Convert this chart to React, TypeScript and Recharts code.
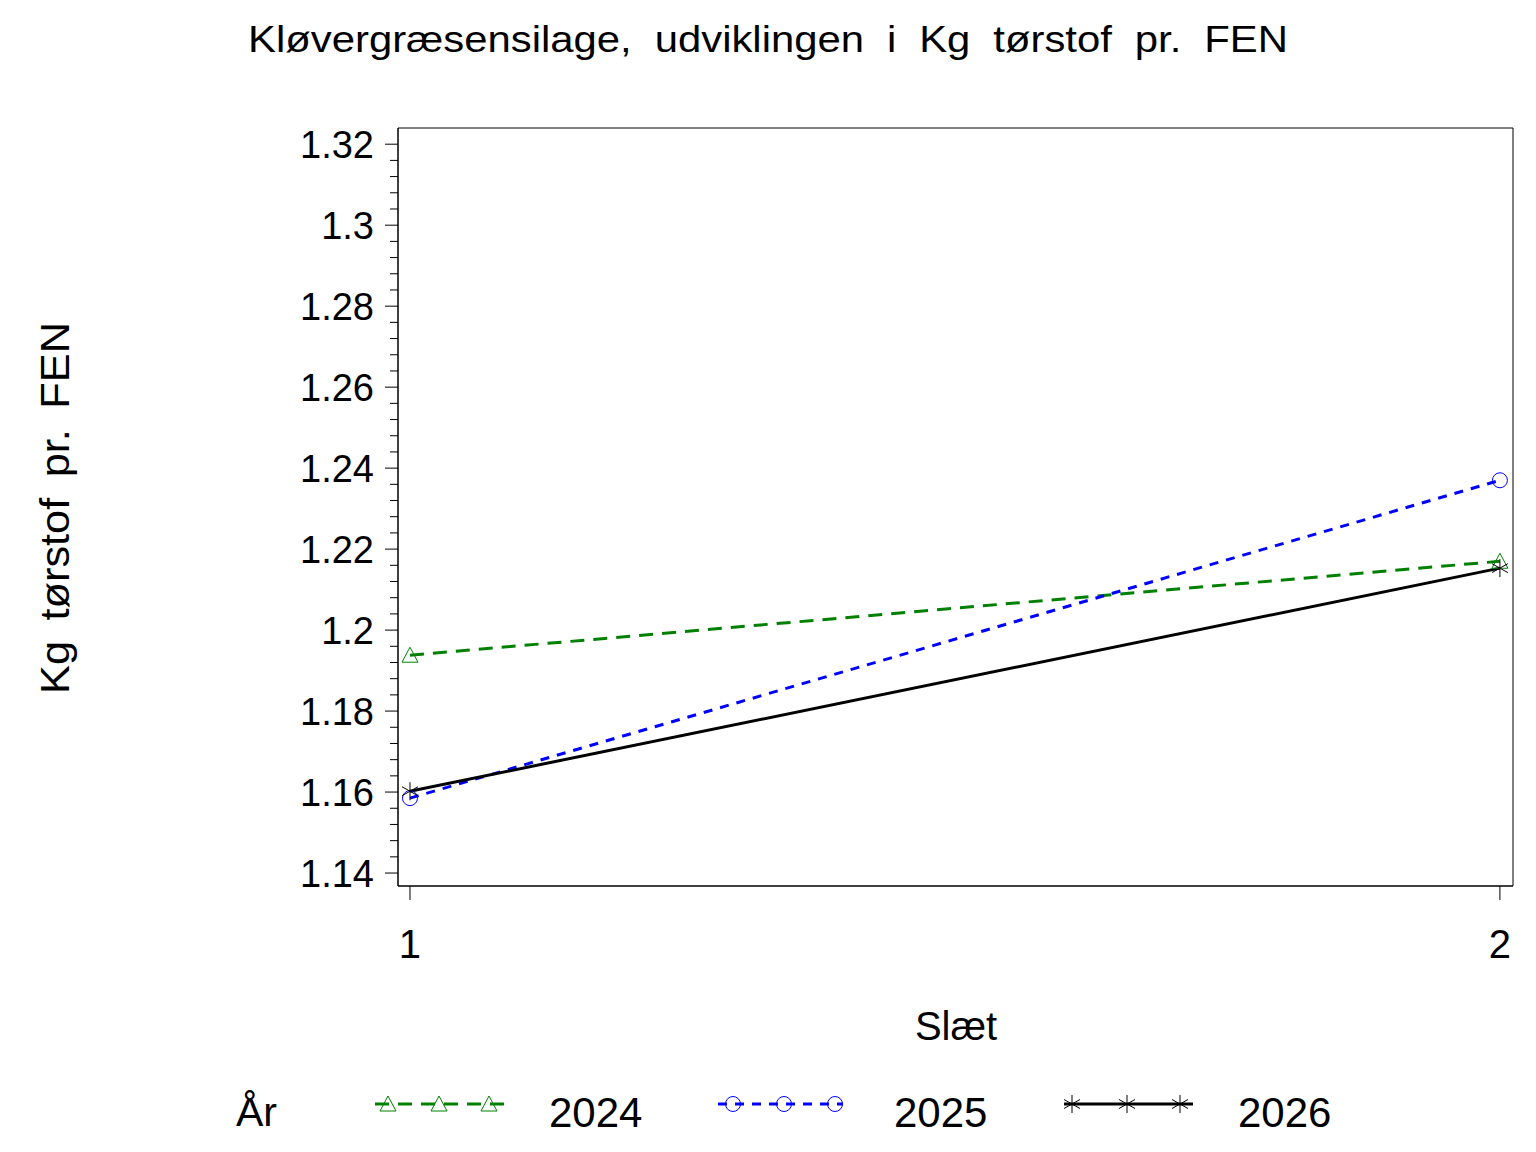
import React from 'react'
import { LineChart, Line, XAxis, YAxis, ReferenceArea, Customized } from 'recharts'

// Slæt (cut number) and Kg tørstof pr. FEN per year
const slaet = [1, 2]
const aar2024 = [1.1938, 1.217]
const aar2025 = [1.1585, 1.237]
const aar2026 = [1.1602, 1.2153]

const yMajorTicks = [1.14, 1.16, 1.18, 1.2, 1.22, 1.24, 1.26, 1.28, 1.3, 1.32]
const xTicks = [1, 2]
const yearLabels = ['2024', '2025', '2026']

const xDomain = [0.989, 2.012]
const yDomain = [1.1368, 1.324]

const FONT = '"Liberation Sans", Arial, Helvetica, sans-serif'
const GREEN = '#008000'
const BLUE = '#0000FF'
const BLACK = '#000000'

const yAllTicks: number[] = []
for (let i = 0; i <= 45; i++) yAllTicks.push(+(1.14 + i * 0.004).toFixed(3))

const data = slaet.map((s, i) => ({
  slaet: s,
  y2024: aar2024[i],
  y2025: aar2025[i],
  y2026: aar2026[i],
}))

const isMajor = (v: number) => yMajorTicks.some((m) => Math.abs(m - v) < 1e-6)

function Triangle({ cx, cy }: { cx: number; cy: number }) {
  return (
    <polygon
      points={`${cx},${cy - 8} ${cx - 8},${cy + 7} ${cx + 8},${cy + 7}`}
      fill="none"
      stroke={GREEN}
      strokeWidth={1}
    />
  )
}

function Ring({ cx, cy }: { cx: number; cy: number }) {
  return <circle cx={cx} cy={cy} r={7.5} fill="none" stroke={BLUE} strokeWidth={1} />
}

function Star({ cx, cy }: { cx: number; cy: number }) {
  return (
    <g stroke={BLACK} strokeWidth={1}>
      <line x1={cx} y1={cy - 9} x2={cx} y2={cy + 9} />
      <line x1={cx - 8} y1={cy - 4.5} x2={cx + 8} y2={cy + 4.5} />
      <line x1={cx - 8} y1={cy + 4.5} x2={cx + 8} y2={cy - 4.5} />
    </g>
  )
}

const markers = [Triangle, Ring, Star]
const colors = [GREEN, BLUE, BLACK]
const dashes = ['14 9', '9 8', undefined]
const keys = ['y2024', 'y2025', 'y2026']

const makeDot = (idx: number) => (props: any) => {
  const M = markers[idx]
  if (props.cx == null || props.cy == null) return <g key={`d${idx}-${props.index}`} />
  return (
    <g key={`d${idx}-${props.index}`}>
      <M cx={props.cx} cy={props.cy} />
    </g>
  )
}

function YTick(props: any) {
  const { x, y, payload } = props
  const v = payload.value as number
  const major = isMajor(v)
  return (
    <g>
      <line x1={x - (major ? 13 : 8)} y1={y} x2={x} y2={y} stroke={BLACK} strokeWidth={1} />
      {major && (
        <text x={x - 24} y={y + 14} textAnchor="end" fontFamily={FONT} fontSize={38} fill={BLACK}>
          {String(Number(v.toFixed(2)))}
        </text>
      )}
    </g>
  )
}

function XTick(props: any) {
  const { x, y, payload } = props
  return (
    <text x={x} y={y + 58} textAnchor="middle" fontFamily={FONT} fontSize={40} fill={BLACK}>
      {payload.value}
    </text>
  )
}

function Decorations() {
  const legendItems = [
    { lineX: 375, lineEnd: 504, marks: [388, 439, 489], textX: 549 },
    { lineX: 718, lineEnd: 843, marks: [733, 784, 835], textX: 894 },
    { lineX: 1064, lineEnd: 1193, marks: [1072, 1127, 1180], textX: 1238 },
  ]
  const ly = 1104
  return (
    <g fontFamily={FONT} fill={BLACK}>
      <text
        x={768}
        y={52}
        textAnchor="middle"
        fontSize={37}
        textLength={1040}
        lengthAdjust="spacingAndGlyphs"
        style={{ wordSpacing: '10px' }}
      >
        Kløvergræsensilage, udviklingen i Kg tørstof pr. FEN
      </text>
      <text
        transform="translate(69,508) rotate(-90)"
        textAnchor="middle"
        fontSize={41}
        textLength={372}
        lengthAdjust="spacingAndGlyphs"
        style={{ wordSpacing: '8px' }}
      >
        Kg tørstof pr. FEN
      </text>
      <text x={956} y={1040} textAnchor="middle" fontSize={40}>
        Slæt
      </text>
      <text x={236} y={1126} fontSize={41}>
        År
      </text>
      {legendItems.map((it, i) => {
        const M = markers[i]
        return (
          <g key={yearLabels[i]}>
            <line
              x1={it.lineX}
              y1={ly}
              x2={it.lineEnd}
              y2={ly}
              stroke={colors[i]}
              strokeWidth={3}
              strokeDasharray={dashes[i]}
            />
            {it.marks.map((mx) => (
              <M key={mx} cx={mx} cy={ly} />
            ))}
            <text x={it.textX} y={1127} fontSize={42}>
              {yearLabels[i]}
            </text>
          </g>
        )
      })}
    </g>
  )
}

export default function App() {
  return (
    <div style={{ position: 'absolute', left: 0, top: 0, background: '#fff' }}>
      <LineChart width={1536} height={1152} data={data} margin={{ top: 128, right: 23, bottom: 0, left: 0 }}>
        <XAxis
          dataKey="slaet"
          type="number"
          domain={xDomain}
          ticks={xTicks}
          interval={0}
          allowDataOverflow
          height={266}
          tickSize={14}
          tickMargin={0}
          tickLine={{ stroke: BLACK, strokeWidth: 1 }}
          axisLine={{ stroke: BLACK, strokeWidth: 1 }}
          tick={<XTick />}
        />
        <YAxis
          type="number"
          domain={yDomain}
          ticks={yAllTicks}
          interval={0}
          allowDataOverflow
          width={398}
          tickSize={0}
          tickMargin={0}
          tickLine={false}
          axisLine={{ stroke: BLACK, strokeWidth: 1 }}
          tick={<YTick />}
        />
        <ReferenceArea
          x1={xDomain[0]}
          x2={xDomain[1]}
          y1={yDomain[0]}
          y2={yDomain[1]}
          fill="none"
          fillOpacity={0}
          stroke={BLACK}
          strokeWidth={1}
          ifOverflow="visible"
        />
        {keys.map((k, i) => (
          <Line
            key={k}
            dataKey={k}
            type="linear"
            stroke={colors[i]}
            strokeWidth={3}
            strokeDasharray={dashes[i]}
            dot={makeDot(i)}
            activeDot={false}
            isAnimationActive={false}
          />
        ))}
        <Customized component={Decorations} />
      </LineChart>
    </div>
  )
}
